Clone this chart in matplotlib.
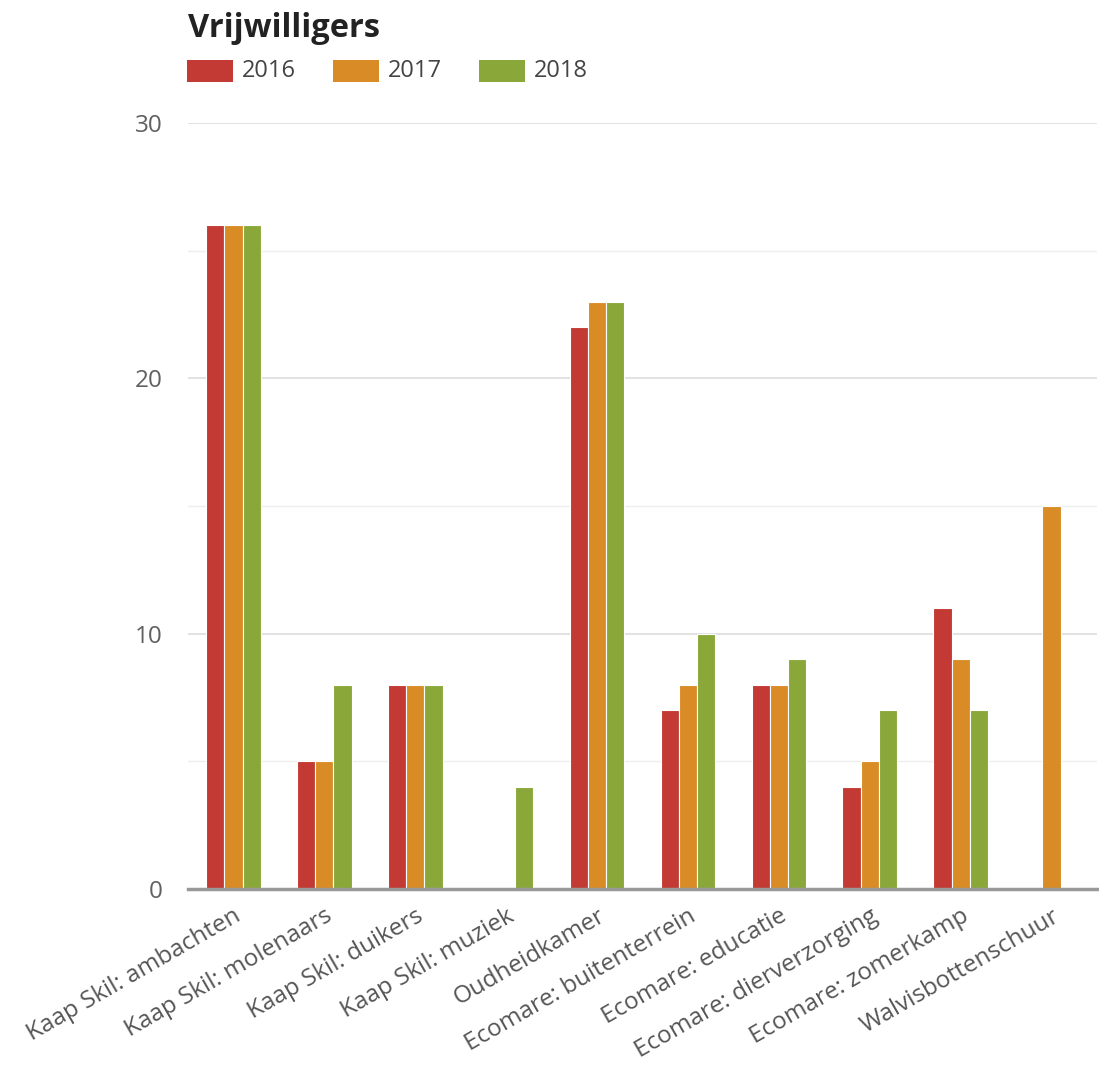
import matplotlib
matplotlib.use("Agg")
import matplotlib.pyplot as plt
import numpy as np
from matplotlib.patches import Rectangle

categories = ["Kaap Skil: ambachten", "Kaap Skil: molenaars", "Kaap Skil: duikers",
              "Kaap Skil: muziek", "Oudheidkamer", "Ecomare: buitenterrein",
              "Ecomare: educatie", "Ecomare: dierverzorging", "Ecomare: zomerkamp",
              "Walvisbottenschuur"]
years = ["2016", "2017", "2018"]
v2016 = [26, 5, 8, 0, 22, 7, 8, 4, 11, 0]
v2017 = [26, 5, 8, 0, 23, 8, 8, 5, 9, 15]
v2018 = [26, 8, 8, 4, 23, 10, 9, 7, 7, 0]
colors = ["#C23A33", "#D98C26", "#8AA83A"]

W, H = 1099, 1068
plt.rcParams['font.family'] = ['Open Sans', 'DejaVu Sans']
fig = plt.figure(figsize=(W / 100, H / 100), dpi=100)
ax = fig.add_axes([188 / W, 1 - 889 / H, (1097 - 188) / W, (889 - 123) / H])

x = np.arange(len(categories))
w = 0.2
for i, (vals, c) in enumerate(zip([v2016, v2017, v2018], colors)):
    ax.bar(x + (i - 1) * w, vals, width=w, color=c, edgecolor="white", linewidth=0.8, zorder=3)

ax.set_xlim(-0.5, len(categories) - 0.5)
ax.set_ylim(0, 30)
ax.set_yticks([0, 10, 20, 30])
ax.set_yticks([5, 15, 25], minor=True)
ax.grid(axis='y', which='major', color='#dddddd', linewidth=1.2, zorder=0)
ax.grid(axis='y', which='minor', color='#eeeeee', linewidth=1.0, zorder=0)
for s in ["top", "right", "left"]:
    ax.spines[s].set_visible(False)
ax.spines["bottom"].set_color("#999999")
ax.spines["bottom"].set_linewidth(2.5)
ax.spines["bottom"].set_zorder(4)
ax.tick_params(axis='y', which='both', length=0, labelsize=17.5, labelcolor="#606060", pad=18)
ax.tick_params(axis='x', length=0, labelsize=17.5, labelcolor="#555555", pad=11)
ax.set_xticks(x)
ax.set_xticklabels(categories, rotation=30, ha='right', rotation_mode='anchor')

fig.text(188 / W, 1 - 37 / H, "Vrijwilligers", fontsize=23.5, fontweight='bold',
         color="#222222", ha='left', va='baseline')

for i, (yr, c) in enumerate(zip(years, colors)):
    x0 = 187 + i * 146
    fig.patches.append(Rectangle((x0 / W, 1 - 82 / H), 46 / W, 22 / H,
                                 transform=fig.transFigure, facecolor=c, edgecolor='none'))
    fig.text((x0 + 55) / W, 1 - 71 / H, yr, fontsize=17, color="#444444",
             ha='left', va='center')

fig.savefig("out.png", dpi=100)
